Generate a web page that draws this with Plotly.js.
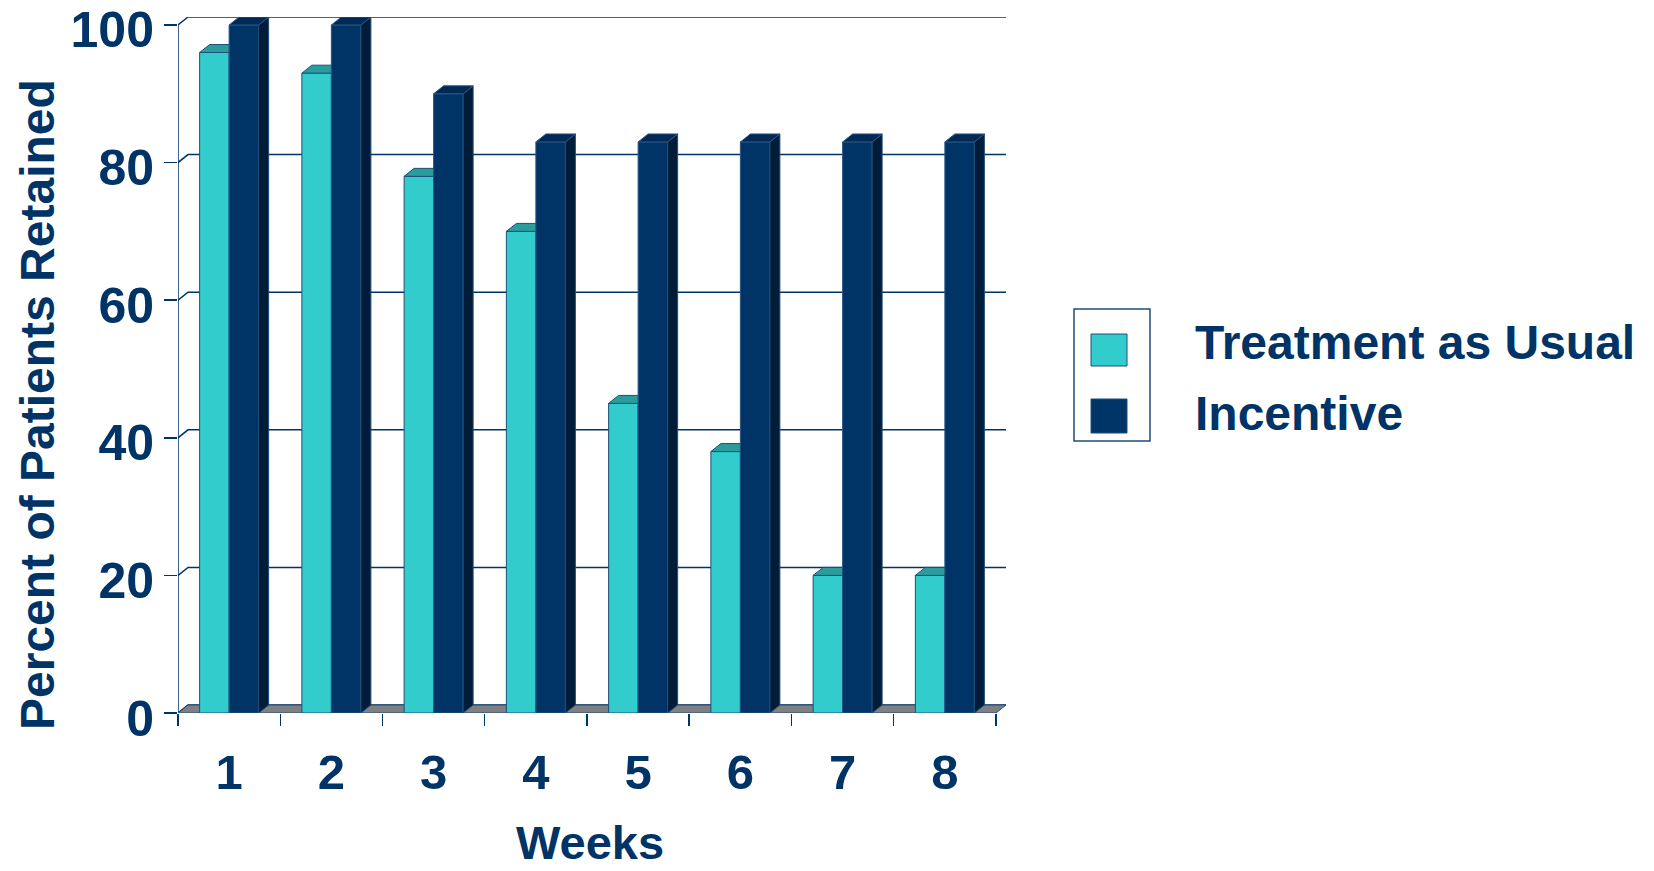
<!DOCTYPE html>
<html>
<head>
<meta charset="utf-8">
<script src="https://cdn.plot.ly/plotly-3.0.1.min.js"></script>
<style>html,body{margin:0;padding:0;background:#fff;}#chart{width:1654px;height:871px;}</style>
</head>
<body>
<div id="chart"></div>
<script>
const weeks = ['1', '2', '3', '4', '5', '6', '7', '8'];
const treatmentAsUsual = [96, 93, 78, 70, 45, 38, 20, 20];
const incentive = [100, 100, 90, 83, 83, 83, 83, 83];
const yTicks = [0, 20, 40, 60, 80, 100];
const seriesNames = ['Treatment as Usual', 'Incentive'];

const NAVY = '#003366';
const TEAL = '#33CCCC';
const TEAL_TOP = '#2A9C9C';
const NAVY_TOP = '#002A55';
const NAVY_SIDE = '#001C38';
const FONT = 'Liberation Sans, Arial, sans-serif';

// geometry
const W = 1654, H = 871;
const L = 178, R = 1006, T = 17, B = 713;
const bargap = 0.423;
const groupW = 1 - bargap;
const dx = 0.098;      // depth in category units
const dy = 1.16;       // depth in value units
const xMin = -0.5, xMax = weeks.length - 0.5 + dx;
const yMax = 100 + dy;
const px = X => (X - L) / (R - L);
const py = Y => (B - Y) / (B - T);

const shapes = [];
function poly(pts, fill, line, layer) {
  const path = 'M ' + pts.map(p => p[0] + ',' + p[1]).join(' L ') + ' Z';
  shapes.push({type: 'path', xref: 'x', yref: 'y', path: path, fillcolor: fill,
    line: {color: line || fill, width: line ? 1 : 0.5}, layer: layer || 'above'});
}
function seg(pts, color, width, layer) {
  const path = 'M ' + pts.map(p => p[0] + ',' + p[1]).join(' L ');
  shapes.push({type: 'path', xref: 'x', yref: 'y', path: path,
    line: {color: color, width: width}, layer: layer || 'below'});
}

// back-wall gridlines with diagonal from the front axis
yTicks.forEach(t => {
  seg([[xMin, t], [xMin + dx, t + dy], [weeks.length - 0.5 + dx, t + dy]], NAVY, 1.5, 'below');
});
// front y axis line
seg([[xMin, 0], [xMin, 100]], NAVY, 1.5, 'below');
// floor
poly([[xMin, 0], [xMin + dx, dy], [weeks.length - 0.5 + dx, dy], [weeks.length - 0.5, 0]], '#808080', '#1F4E79', 'below');

// 3D faces of bars
weeks.forEach((w, i) => {
  const x0 = i - groupW / 2, x1 = i, x2 = i + groupW / 2;
  const v1 = treatmentAsUsual[i], v2 = incentive[i];
  poly([[x0, v1], [x0 + dx, v1 + dy], [x1, v1 + dy], [x1, v1]], TEAL_TOP, '#1F4E79');
  poly([[x2, 0], [x2 + dx, dy], [x2 + dx, v2 + dy], [x2, v2]], NAVY_SIDE, '#1F4E79');
  poly([[x1, v2], [x1 + dx, v2 + dy], [x2 + dx, v2 + dy], [x2, v2]], NAVY_TOP, '#2B5585');
});

// legend (box around swatches)
shapes.push({type: 'rect', xref: 'paper', yref: 'paper', x0: px(1074), x1: px(1150), y0: py(441), y1: py(309),
  line: {color: '#1F4E79', width: 1.5}, fillcolor: 'rgba(0,0,0,0)'});
shapes.push({type: 'rect', xref: 'paper', yref: 'paper', x0: px(1091), x1: px(1127), y0: py(366), y1: py(334),
  line: {color: '#1F4E79', width: 1}, fillcolor: TEAL});
shapes.push({type: 'rect', xref: 'paper', yref: 'paper', x0: px(1091), x1: px(1127), y0: py(433), y1: py(399),
  line: {color: '#1F4E79', width: 1}, fillcolor: NAVY});

const annotations = [
  {text: seriesNames[0], xref: 'paper', yref: 'paper', x: px(1193), y: py(343), xanchor: 'left', yanchor: 'middle',
   showarrow: false, font: {family: FONT, size: 48, color: NAVY, weight: 'bold'}},
  {text: seriesNames[1], xref: 'paper', yref: 'paper', x: px(1193), y: py(413), xanchor: 'left', yanchor: 'middle',
   showarrow: false, font: {family: FONT, size: 48, color: NAVY, weight: 'bold'}},
  {text: 'Percent of Patients Retained', xref: 'paper', yref: 'paper', x: px(37), y: py(405), textangle: -90,
   xanchor: 'center', yanchor: 'middle', showarrow: false, font: {family: FONT, size: 48, color: NAVY, weight: 'bold'}},
  {text: 'Weeks', xref: 'paper', yref: 'paper', x: px(590), y: py(842), xanchor: 'center', yanchor: 'middle',
   showarrow: false, font: {family: FONT, size: 47, color: NAVY, weight: 'bold'}}
];

const data = [
  {type: 'bar', x: weeks, y: treatmentAsUsual, name: seriesNames[0],
   marker: {color: TEAL, line: {color: '#1F4E79', width: 1}}},
  {type: 'bar', x: weeks, y: incentive, name: seriesNames[1],
   marker: {color: NAVY, line: {color: '#2B5585', width: 1}}}
];

const layout = {
  width: W, height: H,
  margin: {l: L, r: W - R, t: T, b: H - B, pad: 0},
  paper_bgcolor: '#fff', plot_bgcolor: 'rgba(0,0,0,0)',
  barmode: 'group', bargap: bargap, bargroupgap: 0,
  showlegend: false,
  font: {family: FONT, color: NAVY},
  xaxis: {
    type: 'category', range: [xMin, xMax], tickson: 'boundaries',
    ticks: 'outside', ticklen: 12, tickwidth: 1.5, tickcolor: NAVY,
    showline: false, showgrid: false, zeroline: false,
    ticklabelstandoff: 26,
    tickfont: {family: FONT, size: 49, color: NAVY, weight: 'bold'}
  },
  yaxis: {
    range: [0, yMax], tickvals: yTicks, ticktext: yTicks.map(String),
    ticks: 'outside', ticklen: 13, tickwidth: 1.5, tickcolor: NAVY,
    showline: false, showgrid: false, zeroline: false,
    ticklabelstandoff: 0, ticklabeloverflow: 'allow', ticklabelshift: 5,
    tickfont: {family: FONT, size: 50, color: NAVY, weight: 'bold'}
  },
  shapes: shapes,
  annotations: annotations
};

Plotly.newPlot('chart', data, layout, {displayModeBar: false, staticPlot: true});
</script>
</body>
</html>
